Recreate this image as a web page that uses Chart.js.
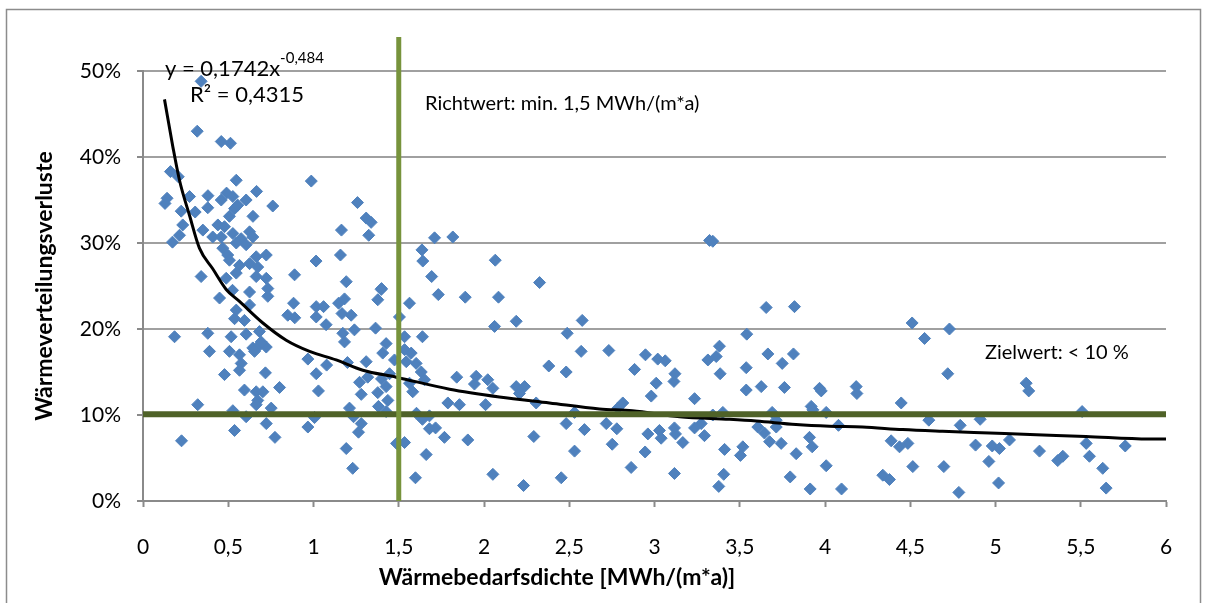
<!DOCTYPE html>
<html>
<head>
<meta charset="utf-8">
<script src="https://cdn.jsdelivr.net/npm/chart.js@4"></script>
<style>
  html, body { margin: 0; padding: 0; background: #fff; }
</style>
</head>
<body>
<canvas id="myChart" width="1208" height="603"></canvas>
<script>
const ctx = document.getElementById('myChart');
const family = 'Lato, "Open Sans", sans-serif';

// Wärmebedarfsdichte [MWh/(m*a)] je Netz
const dichte = [
  0.341, 0.318, 0.459, 0.513, 0.161, 0.207, 0.547, 0.987, 0.141, 0.129,
  0.273, 0.381, 0.490, 0.666, 0.761, 1.258, 0.224, 0.380, 0.459, 0.527,
  0.605, 0.306, 0.537, 0.556, 0.645, 1.309, 1.338, 0.233, 0.351, 0.439,
  0.507, 0.478, 0.214, 0.173, 0.409, 0.459, 0.527, 0.576, 0.625, 0.644,
  0.547, 0.468, 0.605, 0.497, 0.664, 0.723, 0.507, 0.566, 0.625, 0.673,
  0.341, 0.488, 0.547, 0.664, 0.723, 0.889, 0.525, 0.625, 0.732, 1.164,
  1.324, 1.015, 1.158, 1.192, 1.399, 0.449, 0.732, 0.547, 0.537, 0.595,
  0.625, 0.883, 0.849, 0.890, 0.185, 0.380, 0.517, 0.605, 0.683, 0.390,
  0.507, 0.566, 0.576, 0.644, 0.683, 0.723, 0.654, 0.693, 0.478, 0.566,
  0.718, 0.595, 0.664, 0.703, 0.801, 0.673, 0.664, 0.321, 0.527, 0.605,
  0.752, 0.723, 0.537, 0.774, 0.226, 0.967, 1.006, 1.192, 1.230, 1.264,
  1.280, 1.211, 1.235, 1.381, 1.426, 1.377, 1.280, 1.270, 1.318, 1.399,
  1.029, 1.016, 1.077, 0.967, 1.199, 1.309, 1.172, 1.182, 1.240, 1.364,
  1.426, 1.406, 1.475, 1.016, 1.059, 1.016, 1.074, 1.147, 1.182, 1.167,
  1.221, 1.397, 1.377, 1.487, 1.534,
  1.710, 1.817, 1.636, 1.641, 1.693, 1.732, 1.563, 1.504, 1.639, 1.534,
  1.534, 1.573, 1.544, 1.602, 1.632, 1.651, 1.563, 1.582, 1.426, 1.436,
  1.446, 1.604, 1.639, 1.680, 1.680, 1.716, 1.768, 1.661, 1.598,
  1.890, 2.066, 2.085, 2.326, 2.062, 2.189, 2.576, 2.488, 2.570, 2.732,
  2.380, 2.482, 2.947, 3.019, 3.063, 2.883, 3.120, 3.114, 3.010, 2.981,
  1.840, 1.954, 2.022, 1.944, 2.052, 2.189, 2.238, 2.208, 1.788, 1.856,
  2.009, 2.306, 2.814, 2.785, 2.531, 1.905, 2.052, 2.232, 2.292, 2.453,
  2.482, 2.531, 2.589, 2.717, 2.752, 2.779, 2.863, 2.945, 2.961, 3.029,
  3.039, 3.117, 3.123, 3.117,
  3.323, 3.342, 3.655, 3.821, 4.511, 4.584, 3.541, 3.381, 3.362, 3.313,
  3.665, 3.815, 3.749, 3.538, 3.385, 3.538, 3.626, 3.762, 3.968, 3.978,
  4.183, 4.187, 3.235, 4.447, 3.919, 3.929, 3.401, 3.342, 3.274, 3.690,
  3.714, 3.714, 4.007, 4.079, 4.609, 3.166, 3.235, 3.293, 3.606, 3.645,
  3.675, 3.743, 3.909, 3.925, 3.831, 3.411, 3.518, 3.504, 4.388, 4.437,
  4.486, 4.007, 4.515, 3.406, 3.377, 3.796, 3.913, 4.097, 4.339, 4.378,
  4.730, 4.720, 5.180, 5.195, 5.508, 4.793, 4.910, 4.883, 4.981, 5.023,
  5.082, 4.961, 5.258, 5.365, 5.395, 5.532, 5.551, 4.697, 5.629, 5.761,
  5.018, 4.785, 5.649
];

// Wärmeverteilungsverluste (Anteil) je Netz
const verluste = [
  0.488, 0.430, 0.418, 0.416, 0.383, 0.377, 0.373, 0.372, 0.352, 0.346,
  0.354, 0.355, 0.358, 0.360, 0.343, 0.347, 0.337, 0.341, 0.350, 0.354,
  0.350, 0.336, 0.340, 0.344, 0.331, 0.329, 0.324, 0.321, 0.315, 0.321,
  0.331, 0.319, 0.309, 0.301, 0.307, 0.307, 0.311, 0.305, 0.313, 0.307,
  0.300, 0.294, 0.298, 0.286, 0.284, 0.286, 0.280, 0.274, 0.276, 0.272,
  0.261, 0.259, 0.265, 0.261, 0.259, 0.263, 0.245, 0.243, 0.247, 0.315,
  0.309, 0.279, 0.286, 0.255, 0.247, 0.236, 0.238, 0.222, 0.212, 0.210,
  0.228, 0.230, 0.216, 0.213, 0.191, 0.195, 0.191, 0.194, 0.197, 0.174,
  0.174, 0.170, 0.160, 0.178, 0.181, 0.179, 0.174, 0.185, 0.147, 0.152,
  0.149, 0.129, 0.127, 0.127, 0.132, 0.117, 0.112, 0.112, 0.105, 0.098,
  0.108, 0.090, 0.082, 0.074, 0.070, 0.086, 0.097, 0.061, 0.038, 0.080,
  0.090, 0.108, 0.098, 0.110, 0.104, 0.126, 0.124, 0.138, 0.144, 0.142,
  0.128, 0.148, 0.158, 0.165, 0.161, 0.162, 0.195, 0.185, 0.199, 0.201,
  0.183, 0.172, 0.164, 0.226, 0.226, 0.214, 0.205, 0.230, 0.235, 0.218,
  0.216, 0.246, 0.234, 0.067, 0.068,
  0.306, 0.307, 0.292, 0.279, 0.261, 0.240, 0.230, 0.214, 0.191, 0.191,
  0.176, 0.172, 0.162, 0.160, 0.150, 0.141, 0.137, 0.127, 0.133, 0.117,
  0.148, 0.102, 0.095, 0.099, 0.084, 0.085, 0.074, 0.054, 0.027,
  0.237, 0.280, 0.237, 0.254, 0.203, 0.209, 0.210, 0.195, 0.174, 0.175,
  0.157, 0.150, 0.170, 0.165, 0.163, 0.153, 0.148, 0.139, 0.137, 0.122,
  0.144, 0.145, 0.141, 0.136, 0.131, 0.133, 0.133, 0.125, 0.114, 0.112,
  0.112, 0.114, 0.114, 0.108, 0.103, 0.071, 0.031, 0.018, 0.075, 0.027,
  0.090, 0.058, 0.083, 0.090, 0.066, 0.084, 0.039, 0.057, 0.078, 0.082,
  0.073, 0.085, 0.078, 0.032,
  0.303, 0.302, 0.225, 0.226, 0.207, 0.189, 0.194, 0.180, 0.168, 0.164,
  0.171, 0.171, 0.160, 0.155, 0.148, 0.129, 0.133, 0.132, 0.131, 0.128,
  0.133, 0.125, 0.119, 0.114, 0.110, 0.106, 0.103, 0.100, 0.090, 0.103,
  0.094, 0.086, 0.103, 0.088, 0.094, 0.068, 0.085, 0.076, 0.086, 0.079,
  0.069, 0.067, 0.074, 0.063, 0.055, 0.060, 0.063, 0.053, 0.070, 0.063,
  0.067, 0.041, 0.040, 0.031, 0.017, 0.028, 0.014, 0.014, 0.030, 0.025,
  0.200, 0.148, 0.137, 0.128, 0.104, 0.088, 0.095, 0.065, 0.064, 0.061,
  0.071, 0.046, 0.058, 0.047, 0.052, 0.067, 0.052, 0.040, 0.038, 0.064,
  0.021, 0.010, 0.015
];

// Trendlinie (Potenz), Punkte
const trendX = [0.126, 0.175, 0.214, 0.273, 0.331, 0.409, 0.488, 0.566, 0.703, 0.84,
  0.977, 1.133, 1.289, 1.485, 1.798, 2.09, 2.384, 2.677, 2.87, 3.147, 3.44, 3.597,
  3.83, 4.026, 4.22, 4.456, 4.69, 4.965, 5.24, 5.53, 5.90, 6.0];
const trendY = [0.467, 0.412, 0.373, 0.332, 0.294, 0.270, 0.246, 0.232, 0.207, 0.187,
  0.174, 0.164, 0.152, 0.144, 0.130, 0.121, 0.114, 0.107, 0.105, 0.098, 0.095, 0.093,
  0.089, 0.087, 0.086, 0.083, 0.081, 0.079, 0.077, 0.075, 0.072, 0.072];

const richtwert = 1.5;   // MWh/(m*a)
const zielwert = 0.101;  // Anteil

const punkte = dichte.map((x, i) => ({ x: x, y: verluste[i] }));
const trend = trendX.map((x, i) => ({ x: x, y: trendY[i] }));

const linien = {
  id: 'linien',
  afterDatasetsDraw(chart) {
    const c = chart.ctx;
    const xs = chart.scales.x, ys = chart.scales.y;
    const area = chart.chartArea;
    c.save();
    // Zielwert
    const yz = ys.getPixelForValue(zielwert);
    c.strokeStyle = '#4F6228';
    c.lineWidth = 6;
    c.beginPath();
    c.moveTo(area.left, yz);
    c.lineTo(area.right, yz);
    c.stroke();
    // Richtwert
    const xr = xs.getPixelForValue(richtwert);
    c.strokeStyle = '#77933C';
    c.lineWidth = 5;
    c.beginPath();
    c.moveTo(xr, area.bottom);
    c.lineTo(xr, 37);
    c.stroke();
    c.restore();
  }
};

const texte = {
  id: 'texte',
  afterDraw(chart) {
    const c = chart.ctx;
    c.save();
    c.strokeStyle = '#8c8c8c';
    c.lineWidth = 1.5;
    c.strokeRect(6.5, 9.5, 1194, 600);

    c.fillStyle = '#000';
    c.textBaseline = 'middle';
    c.font = '20px ' + family;
    c.fillText('Richtwert: min. 1,5 MWh/(m*a)', 425, 104);
    c.fillText('Zielwert: < 10 %', 985, 353);
    c.font = '22px ' + family;
    c.fillText('y = 0,1742x', 165, 69);
    const w = c.measureText('y = 0,1742x').width;
    c.font = '15px ' + family;
    c.fillText('-0,484', 165 + w, 58);
    c.font = '22px ' + family;
    c.fillText('R\u00B2 = 0,4315', 190, 95);

    c.font = 'bold 23px ' + family;
    c.textAlign = 'center';
    c.fillText('Wärmebedarfsdichte [MWh/(m*a)]', 557, 578);
    c.translate(45, 286);
    c.rotate(-Math.PI / 2);
    c.fillText('Wärmeverteilungsverluste', 0, 0);
    c.restore();
  }
};

new Chart(ctx, {
  type: 'scatter',
  data: {
    datasets: [
      {
        data: trend,
        showLine: true,
        borderColor: '#000',
        borderWidth: 3,
        pointRadius: 0,
        cubicInterpolationMode: 'monotone'
      },
      {
        data: punkte,
        pointStyle: 'rectRot',
        pointRadius: 6,
        backgroundColor: '#4F81BD',
        borderColor: '#4F81BD',
        borderWidth: 1
      }
    ]
  },
  options: {
    responsive: false,
    animation: false,
    layout: { padding: { left: 0, top: 71, right: 42, bottom: 0 } },
    plugins: { legend: { display: false }, tooltip: { enabled: false } },
    scales: {
      x: {
        min: 0, max: 6,
        ticks: {
          stepSize: 0.5,
          autoSkip: false,
          maxRotation: 0,
          padding: 28,
          color: '#000',
          font: { size: 21, family: family },
          callback: v => String(v).replace('.', ',')
        },
        grid: { drawOnChartArea: false, tickLength: 6, tickColor: '#8a8a8a', tickWidth: 2 },
        border: { color: '#8a8a8a', width: 2 },
        afterFit: s => { s.height = 102; }
      },
      y: {
        min: 0, max: 0.5,
        ticks: {
          stepSize: 0.1,
          padding: 16,
          color: '#000',
          font: { size: 21, family: family },
          callback: v => Math.round(v * 100) + '%'
        },
        grid: { color: '#a0a0a0', lineWidth: 2, tickLength: 6, tickColor: '#8a8a8a', tickWidth: 2 },
        border: { color: '#8a8a8a', width: 2 },
        afterFit: s => { s.width = 143; }
      }
    }
  },
  plugins: [linien, texte]
});
</script>
</body>
</html>
